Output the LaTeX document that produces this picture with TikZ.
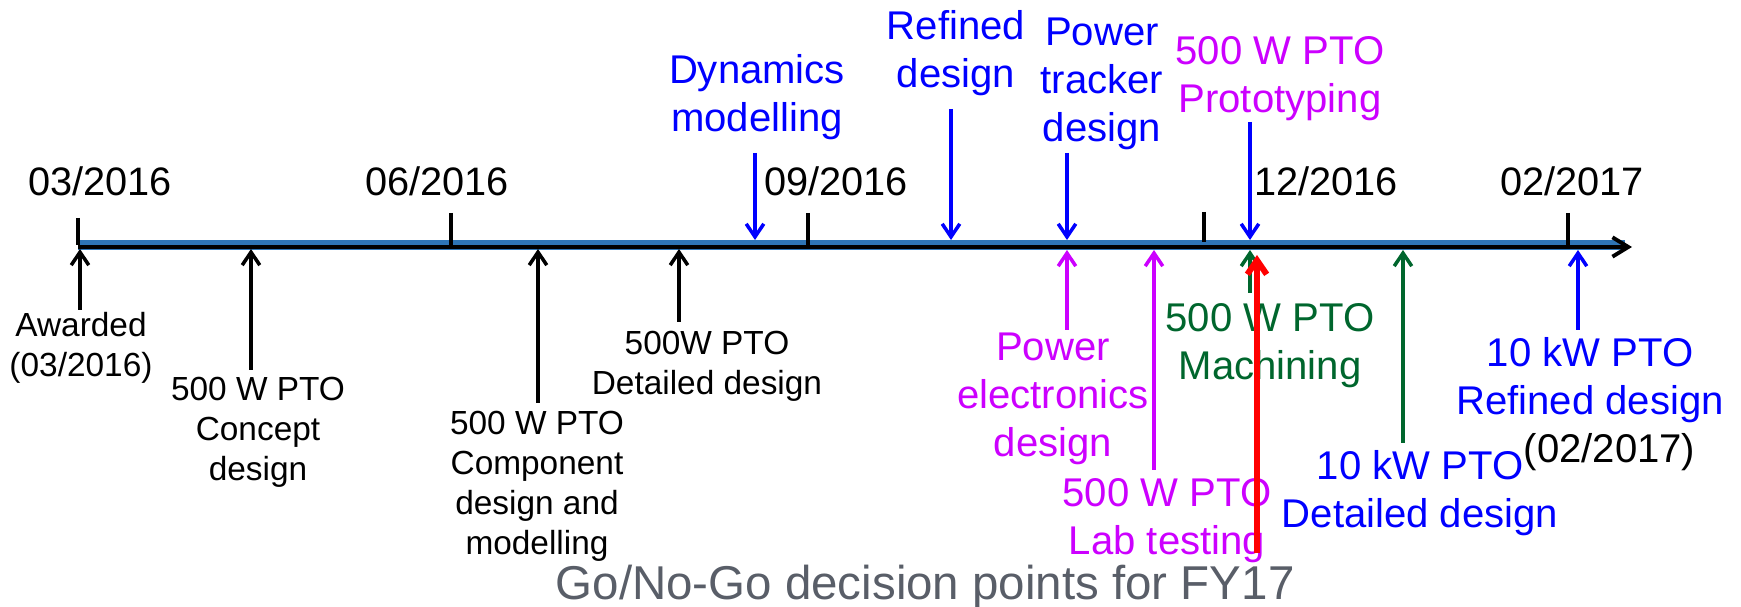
\documentclass[tikz,border=0pt]{standalone}
\usepackage{fontspec}
\setmainfont{Liberation Sans}
\usetikzlibrary{arrows.meta}
\definecolor{axisblue}{RGB}{46, 117, 182}
\definecolor{evmagenta}{RGB}{204, 0, 255}
\definecolor{evgreen}{RGB}{0, 102, 45}
\definecolor{titlegrey}{RGB}{89, 94, 104}

\begin{document}
\begin{tikzpicture}[x=0.01cm, y=-0.01cm,
  evlbl/.style={font=\fontsize{11.4pt}{13.7pt}\selectfont, align=center, anchor=base, inner sep=0pt},
  smlbl/.style={font=\fontsize{9.5pt}{11.4pt}\selectfont, align=center, anchor=base, inner sep=0pt},
  datelbl/.style={font=\fontsize{11.3pt}{13.6pt}\selectfont, anchor=base, inner sep=0pt},
  evarr/.style={-{Straight Barb[length=3.7pt,width=5pt]}, line width=1pt},
  datetick/.style={line width=1pt}]
  % 统一边界
  \useasboundingbox (0,0) rectangle (1741,607);

  % 时间轴
  \coordinate (bandL) at (78,245);
  \coordinate (bandR) at (1625,245);
  \coordinate (axL) at (78,247);
  \coordinate (axR) at (1632,247);
  \draw[axisblue, line width=2.8pt] (bandL) -- (bandR);
  \draw[line width=1.1pt, -{Straight Barb[length=4.5pt,width=5.5pt]}] (axL) -- (axR);

  % 刻度与日期
  \draw[datetick] (78,218) -- (78,245);
  \draw[datetick] (451,213) -- (451,245);
  \draw[datetick] (808,213) -- (808,245);
  \draw[datetick] (1204,212) -- (1204,242);
  \draw[datetick] (1568,213) -- (1568,245);
  \node[datelbl] (d0316) at (100,196) {03/2016};
  \node[datelbl] (d0616) at (437,196) {06/2016};
  \node[datelbl] (d0916) at (836,196) {09/2016};
  \node[datelbl] (d1216) at (1326,196) {12/2016};
  \node[datelbl] (d0217) at (1572,196) {02/2017};

  % 轴上方：向下箭头（base = 末行基线）
  \node[evlbl, blue] (dyn) at (757,132) {Dynamics\\modelling};
  \coordinate (dyn-t) at (755,153);
  \coordinate (dyn-h) at (755,240);
  \draw[evarr, blue] (dyn-t) -- (dyn-h);

  \node[evlbl, blue] (refd) at (956,88) {Refined\\design};
  \coordinate (refd-t) at (951,109);
  \coordinate (refd-h) at (951,240);
  \draw[evarr, blue] (refd-t) -- (refd-h);

  \node[evlbl, blue] (ptrk) at (1102,142) {Power\\tracker\\design};
  \coordinate (ptrk-t) at (1067,153);
  \coordinate (ptrk-h) at (1067,240);
  \draw[evarr, blue] (ptrk-t) -- (ptrk-h);

  \node[evlbl, evmagenta] (proto) at (1280,113) {500 W PTO\\Prototyping};
  \coordinate (proto-t) at (1250,122);
  \coordinate (proto-h) at (1250,240);
  \draw[evarr, blue] (proto-t) -- (proto-h);

  % 轴下方：向上箭头（黑色）
  \node[smlbl] (award) at (81,377) {Awarded\\(03/2016)};
  \coordinate (award-t) at (80,310);
  \coordinate (award-h) at (80,249);
  \draw[evarr] (award-t) -- (award-h);

  \node[smlbl] (cncpt) at (258,481) {500 W PTO\\Concept\\design};
  \coordinate (cncpt-t) at (251,370);
  \coordinate (cncpt-h) at (251,249);
  \draw[evarr] (cncpt-t) -- (cncpt-h);

  \node[smlbl] (comp) at (537,555) {500 W PTO\\Component\\design and\\modelling};
  \coordinate (comp-t) at (538,403);
  \coordinate (comp-h) at (538,249);
  \draw[evarr] (comp-t) -- (comp-h);

  \node[smlbl] (detl) at (707,395) {500W PTO\\Detailed design};
  \coordinate (detl-t) at (679,322);
  \coordinate (detl-h) at (679,249);
  \draw[evarr] (detl-t) -- (detl-h);

  % 轴下方：彩色
  \node[evlbl, evmagenta] (pelec) at (1053,457) {Power\\electronics\\design};
  \coordinate (pelec-t) at (1067,330);
  \coordinate (pelec-h) at (1067,250);
  \draw[evarr, evmagenta] (pelec-t) -- (pelec-h);

  \node[evlbl, evmagenta] (lab) at (1167,555) {500 W PTO\\Lab testing};
  \coordinate (lab-t) at (1154,470);
  \coordinate (lab-h) at (1154,250);
  \draw[evarr, evmagenta] (lab-t) -- (lab-h);

  \node[evlbl, evgreen] (mach) at (1270,380) {500 W PTO\\Machining};
  \coordinate (mach-t) at (1250,293);
  \coordinate (mach-h) at (1250,250);
  \draw[evarr, evgreen] (mach-t) -- (mach-h);

  % 决策点（红色）
  \coordinate (gng-t) at (1257,553);
  \coordinate (gng-h) at (1257,255);
  \draw[red, line width=1.7pt, -{Straight Barb[length=4pt,width=5.5pt]}] (gng-t) -- (gng-h);

  \node[evlbl, blue] (kwdet) at (1420,528) {10 kW PTO\\Detailed design};
  \coordinate (kwdet-t) at (1403,443);
  \coordinate (kwdet-h) at (1403,250);
  \draw[evarr, evgreen] (kwdet-t) -- (kwdet-h);

  \node[evlbl, blue] (kwref) at (1590,415) {10 kW PTO\\Refined design};
  \node[evlbl, anchor=base west] (d0217b) at (1523,463) {(02/2017)};
  \coordinate (kwref-t) at (1578,330);
  \coordinate (kwref-h) at (1578,250);
  \draw[evarr, blue] (kwref-t) -- (kwref-h);

  % 标题
  \node[font=\fontsize{13.5pt}{16pt}\selectfont, text=titlegrey, anchor=base west, inner sep=0pt] (title) at (555,600) {Go/No-Go decision points for FY17};
\end{tikzpicture}
\end{document}
